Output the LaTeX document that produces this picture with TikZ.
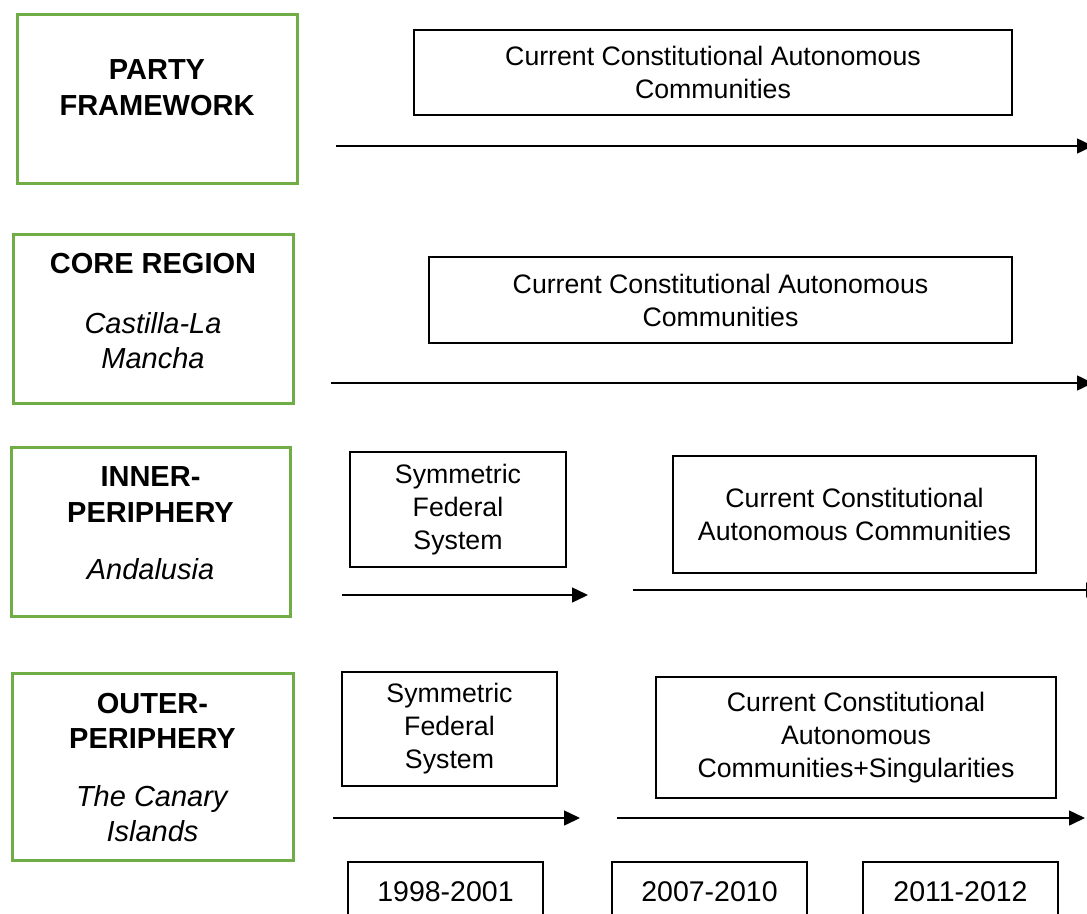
\documentclass[tikz,border=0pt]{standalone}
\usepackage{fontspec}
\setmainfont{Liberation Sans}
\usetikzlibrary{arrows.meta}
\definecolor{framegreen}{RGB}{112,173,71}
\begin{document}
\begin{tikzpicture}[x=1pt,y=-1pt,
  tierframe/.style={draw=framegreen, line width=3pt, inner sep=0pt},
  tiertext/.style={align=center, inner sep=0pt, font=\fontsize{29}{35.5}\selectfont},
  stagebox/.style={draw=black, line width=2pt, inner sep=0pt, align=center,
    font=\fontsize{26.7}{33}\selectfont},
  periodbox/.style={draw=black, line width=2pt, inner sep=0pt,
    minimum width=195pt, minimum height=60pt, font=\fontsize{28.5}{33}\selectfont},
  timeline/.style={line width=1.5pt, -{Triangle[length=16pt,width=15pt]}}]
\useasboundingbox (0,0) rectangle (1087,913);
\clip (0,0) rectangle (1087,913);

% tier frames and their labels
\node[tierframe, minimum width=280pt, minimum height=169pt] (pfframe) at (157,98.5) {};
\node[tierframe, minimum width=280pt, minimum height=169pt] (coreframe) at (153,318.5) {};
\node[tierframe, minimum width=279pt, minimum height=169pt] (innerframe) at (150.5,531.5) {};
\node[tierframe, minimum width=281pt, minimum height=187pt] (outerframe) at (152.5,766.5) {};

\node[tiertext] (pftext) at (157,87.5) {\textbf{PARTY}\\\textbf{FRAMEWORK}};
\node[tiertext] (coretext) at (153,311.5) {\textbf{CORE REGION}\\[24pt]\textit{Castilla-La}\\\textit{Mancha}};
\node[tiertext] (innertext) at (150.5,523.5) {\textbf{INNER-}\\\textbf{PERIPHERY}\\[22pt]\textit{Andalusia}};
\node[tiertext] (outertext) at (152.5,767.5) {\textbf{OUTER-}\\\textbf{PERIPHERY}\\[22pt]\textit{The Canary}\\\textit{Islands}};

% stages of each tier
\node[stagebox, minimum width=598pt, minimum height=85pt] (pfcurrent) at (713,72.5)
  {Current Constitutional Autonomous\\Communities};
\node[stagebox, minimum width=583pt, minimum height=86pt] (corecurrent) at (720.5,300)
  {Current Constitutional Autonomous\\Communities};
\node[stagebox, minimum width=216pt, minimum height=115pt] (innersym) at (458,509.5)
  {Symmetric\\Federal\\System};
\node[stagebox, minimum width=363pt, minimum height=117pt] (innercurrent) at (854.5,514.5)
  {Current Constitutional\\Autonomous Communities};
\node[stagebox, minimum width=215pt, minimum height=114pt] (outersym) at (449.5,729)
  {Symmetric\\Federal\\System};
\node[stagebox, minimum width=400pt, minimum height=121pt] (outercurrent) at (856,737.5)
  {Current Constitutional\\Autonomous\\Communities+Singularities};

% time axis
\node[periodbox] (p1) at (445.5,892) {1998-2001};
\node[periodbox] (p2) at (709.5,892) {2007-2010};
\node[periodbox] (p3) at (960.5,892) {2011-2012};

% timelines
\coordinate (pfstart) at (336,146);   \coordinate (pfend) at (1093,146);
\coordinate (corestart) at (331,383); \coordinate (coreend) at (1093,383);
\coordinate (innerAstart) at (342,595); \coordinate (innerAend) at (588,595);
\coordinate (innerBstart) at (633,590); \coordinate (innerBend) at (1102,590);
\coordinate (outerAstart) at (333,818); \coordinate (outerAend) at (580,818);
\coordinate (outerBstart) at (617,818); \coordinate (outerBend) at (1085,818);

\draw[timeline] (pfstart) -- (pfend);
\draw[timeline] (corestart) -- (coreend);
\draw[timeline] (innerAstart) -- (innerAend);
\draw[timeline] (innerBstart) -- (innerBend);
\draw[timeline] (outerAstart) -- (outerAend);
\draw[timeline] (outerBstart) -- (outerBend);
\end{tikzpicture}
\end{document}
